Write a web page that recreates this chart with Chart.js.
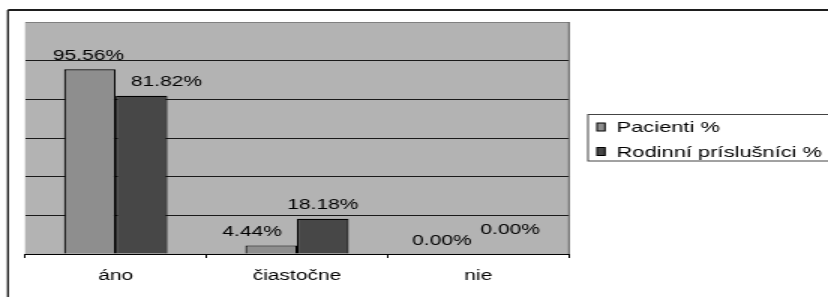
<!DOCTYPE html>
<html>
<head>
<meta charset="utf-8">
<script src="https://cdn.jsdelivr.net/npm/chart.js@4.4.1/dist/chart.umd.min.js"></script>
<style>
    html, body { margin: 0; padding: 0; background: #fff; overflow: hidden; }
    /* the original picture is stretched sideways, so the chart is drawn narrow and scaled */
    #wrap { width: 552px; height: 297px; transform: scaleX(1.5); transform-origin: 0 0; }
</style>
</head>
<body>
<div id="wrap"><canvas id="chart"></canvas></div>
<script>
const categories = ["áno", "čiastočne", "nie"];
const pacienti = [95.56, 4.44, 0.00];
const rodinni = [81.82, 18.18, 0.00];
const seriesNames = ["Pacienti %", "Rodinní príslušníci %"];
const yTicks = [0, 20, 40, 60, 80, 100, 120];

// the original moved some value labels aside so they would not collide (screen px, per series)
const labelNudgeX = [[-1.5, -19, -10.5], [25, 0, 6]];
const labelNudgeY = [[0, 0, 0], [0, 0, -11]];

const SX = 1.5;
const FONT = "'Liberation Sans', Arial, sans-serif";

document.addEventListener("DOMContentLoaded", () => {
    Chart.defaults.font.family = FONT;
    Chart.defaults.font.size = 14;
    Chart.defaults.color = "#000";

    // gray plot background + right edge
    const plotBg = {
        id: "plotBg",
        beforeDraw(chart) {
            const { ctx, chartArea: a } = chart;
            ctx.save();
            ctx.fillStyle = "#b3b3b3";
            ctx.fillRect(a.left, a.top, a.right - a.left, a.bottom - a.top);
            ctx.restore();
        },
        afterDraw(chart) {
            const { ctx, chartArea: a } = chart;
            ctx.save();
            ctx.strokeStyle = "#5a5a5a";
            ctx.lineWidth = 1;
            ctx.beginPath();
            ctx.moveTo(a.right, a.top);
            ctx.lineTo(a.right, a.bottom);
            ctx.stroke();
            ctx.restore();
        }
    };

    // value labels above bars
    const barLabels = {
        id: "barLabels",
        afterDatasetsDraw(chart) {
            const { ctx } = chart;
            ctx.save();
            ctx.font = "14px " + FONT;
            ctx.fillStyle = "#000";
            ctx.textAlign = "center";
            ctx.textBaseline = "alphabetic";
            chart.data.datasets.forEach((ds, i) => {
                chart.getDatasetMeta(i).data.forEach((bar, j) => {
                    const x = bar.x + labelNudgeX[i][j] / SX;
                    const y = bar.y - 9.5 + labelNudgeY[i][j];
                    ctx.fillText(ds.data[j].toFixed(2) + "%", x, y);
                });
            });
            ctx.restore();
        }
    };

    // outer frame + legend box
    const frameLegend = {
        id: "frameLegend",
        afterDraw(chart) {
            const { ctx } = chart;
            ctx.save();
            ctx.strokeStyle = "#1e1e1e";
            ctx.lineWidth = 2;
            ctx.beginPath();
            ctx.moveTo(5.3, 10);
            ctx.lineTo(560, 10);
            ctx.stroke();
            ctx.lineWidth = 2 / SX;
            ctx.beginPath();
            ctx.moveTo(5.3, 10);
            ctx.lineTo(5.3, 297);
            ctx.stroke();

            ctx.lineWidth = 1;
            ctx.strokeStyle = "#444";
            ctx.strokeRect(392, 114.5, 200, 46.5);

            ctx.font = "14.6px " + FONT;
            ctx.textBaseline = "middle";
            ctx.textAlign = "left";
            chart.data.datasets.forEach((ds, i) => {
                const y = 127 + i * 24.5;
                ctx.fillStyle = ds.backgroundColor;
                ctx.fillRect(398, y - 4, 5.3, 8);
                ctx.lineWidth = 1;
                ctx.strokeStyle = "#000";
                ctx.strokeRect(398, y - 4, 5.3, 8);
                ctx.fillStyle = "#000";
                ctx.fillText(ds.label, 411, y + 1);
            });
            ctx.restore();
        }
    };

    new Chart(document.getElementById("chart"), {
        type: "bar",
        data: {
            labels: categories,
            datasets: [{
                label: seriesNames[0],
                data: pacienti,
                backgroundColor: "#8e8e8e",
                borderColor: "#000",
                borderWidth: 1.2
            }, {
                label: seriesNames[1],
                data: rodinni,
                backgroundColor: "#474747",
                borderColor: "#000",
                borderWidth: 1.2
            }]
        },
        options: {
            responsive: true,
            maintainAspectRatio: false,
            animation: false,
            events: [],
            layout: { padding: { left: 16.7, top: 22, right: 172.7, bottom: 0 } },
            datasets: { bar: { barPercentage: 1, categoryPercentage: 0.57 } },
            plugins: { legend: { display: false }, tooltip: { enabled: false } },
            scales: {
                x: {
                    grid: { drawOnChartArea: false, tickLength: 4, color: "#000", offset: true },
                    border: { color: "#000", width: 1 },
                    ticks: { padding: 10, color: "#000", font: { size: 14 } },
                    afterFit(scale) { scale.height = 43; }
                },
                y: {
                    min: yTicks[0],
                    max: yTicks[yTicks.length - 1],
                    ticks: { display: false, stepSize: yTicks[1] - yTicks[0] },
                    grid: {
                        drawTicks: false,
                        color: c => c.tick.value === yTicks[yTicks.length - 1] ? "#808080" : "#1a1a1a"
                    },
                    border: { display: false },
                    afterFit(scale) { scale.width = 0; }
                }
            }
        },
        plugins: [plotBg, barLabels, frameLegend]
    });
});
</script>
</body>
</html>
